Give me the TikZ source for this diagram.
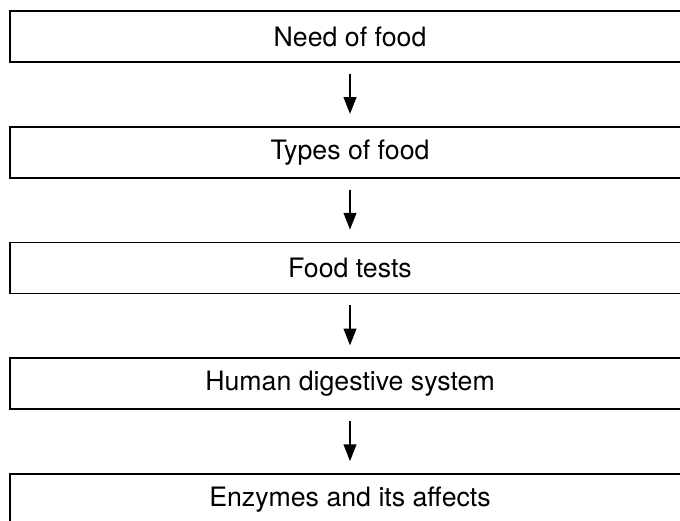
\documentclass[tikz,border=0pt]{standalone}
\usepackage{fontspec}
\setmainfont{TeX Gyre Heros}
\usepackage{tikz}
\usetikzlibrary{arrows.meta, positioning}

\begin{document}
\begin{tikzpicture}[
  stagebox/.style={draw=black, line width=1.2pt, minimum width=17cm, minimum height=1.275cm, inner sep=0pt, font=\fontsize{19}{22}\selectfont},
  flow/.style={line width=1pt, -{Triangle[length=0.42cm, width=0.32cm]}, shorten <=0.275cm, shorten >=0.3cm}
]
  \useasboundingbox (0, 0) rectangle (17, -13.025);
  \node[stagebox] (need) at (8.75, -0.9125) {Need of food};
  \node[stagebox] (types) at (8.75, -3.806) {Types of food};
  \node[stagebox] (tests) at (8.75, -6.7) {Food tests};
  \node[stagebox] (digest) at (8.75, -9.594) {Human digestive system};
  \node[stagebox] (enzymes) at (8.75, -12.4875) {Enzymes and its affects};
  \draw[flow] (need) -- (types);
  \draw[flow] (types) -- (tests);
  \draw[flow] (tests) -- (digest);
  \draw[flow] (digest) -- (enzymes);
\end{tikzpicture}
\end{document}
